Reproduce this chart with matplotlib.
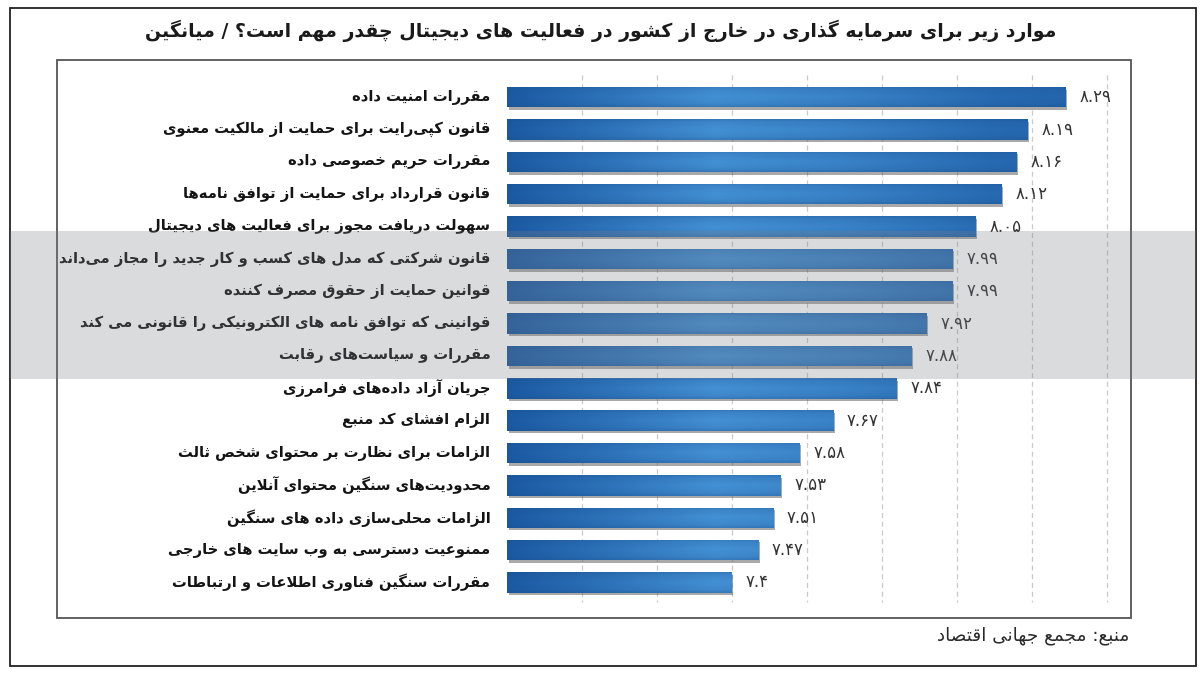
import numpy as np
import matplotlib
matplotlib.use("Agg")
import matplotlib.pyplot as plt
from matplotlib.patches import Rectangle
from matplotlib.transforms import ScaledTranslation

# ---------------- data ----------------
categories = [
    "مقررات امنیت داده",
    "قانون کپی‌رایت برای حمایت از مالکیت معنوی",
    "مقررات حریم خصوصی داده",
    "قانون قرارداد برای حمایت از توافق نامه‌ها",
    "سهولت دریافت مجوز برای فعالیت های دیجیتال",
    "قانون شرکتی که مدل های کسب و کار جدید را مجاز می‌داند",
    "قوانین حمایت از حقوق مصرف کننده",
    "قوانینی که توافق نامه های الکترونیکی را قانونی می کند",
    "مقررات و سیاست‌های رقابت",
    "جریان آزاد داده‌های فرامرزی",
    "الزام افشای کد منبع",
    "الزامات برای نظارت بر محتوای شخص ثالث",
    "محدودیت‌های سنگین محتوای آنلاین",
    "الزامات محلی‌سازی داده های سنگین",
    "ممنوعیت دسترسی به وب سایت های خارجی",
    "مقررات سنگین فناوری اطلاعات و ارتباطات",
]
values = [8.29, 8.19, 8.16, 8.12, 8.05, 7.99, 7.99, 7.92,
          7.88, 7.84, 7.67, 7.58, 7.53, 7.51, 7.47, 7.40]
title_text = "موارد زیر برای سرمایه گذاری در خارج از کشور در فعالیت های دیجیتال چقدر مهم است؟ / میانگین"
source_text = "منبع: مجمع جهانی اقتصاد"
x_min = 6.8
x_max = 8.465
grid_ticks = [7.0, 7.2, 7.4, 7.6, 7.8, 8.0, 8.2, 8.4]

# ---------------- minimal Arabic/Persian shaping ----------------
# forms: (isolated, final, initial, medial); None for right-joining letters
FORMS = {
    '\u0621': (0xFE80, None, None, None),
    '\u0622': (0xFE81, 0xFE82, None, None),
    '\u0623': (0xFE83, 0xFE84, None, None),
    '\u0624': (0xFE85, 0xFE86, None, None),
    '\u0625': (0xFE87, 0xFE88, None, None),
    '\u0626': (0xFE89, 0xFE8A, 0xFE8B, 0xFE8C),
    '\u0627': (0xFE8D, 0xFE8E, None, None),
    '\u0628': (0xFE8F, 0xFE90, 0xFE91, 0xFE92),
    '\u0629': (0xFE93, 0xFE94, None, None),
    '\u062A': (0xFE95, 0xFE96, 0xFE97, 0xFE98),
    '\u062B': (0xFE99, 0xFE9A, 0xFE9B, 0xFE9C),
    '\u062C': (0xFE9D, 0xFE9E, 0xFE9F, 0xFEA0),
    '\u062D': (0xFEA1, 0xFEA2, 0xFEA3, 0xFEA4),
    '\u062E': (0xFEA5, 0xFEA6, 0xFEA7, 0xFEA8),
    '\u062F': (0xFEA9, 0xFEAA, None, None),
    '\u0630': (0xFEAB, 0xFEAC, None, None),
    '\u0631': (0xFEAD, 0xFEAE, None, None),
    '\u0632': (0xFEAF, 0xFEB0, None, None),
    '\u0633': (0xFEB1, 0xFEB2, 0xFEB3, 0xFEB4),
    '\u0634': (0xFEB5, 0xFEB6, 0xFEB7, 0xFEB8),
    '\u0635': (0xFEB9, 0xFEBA, 0xFEBB, 0xFEBC),
    '\u0636': (0xFEBD, 0xFEBE, 0xFEBF, 0xFEC0),
    '\u0637': (0xFEC1, 0xFEC2, 0xFEC3, 0xFEC4),
    '\u0638': (0xFEC5, 0xFEC6, 0xFEC7, 0xFEC8),
    '\u0639': (0xFEC9, 0xFECA, 0xFECB, 0xFECC),
    '\u063A': (0xFECD, 0xFECE, 0xFECF, 0xFED0),
    '\u0641': (0xFED1, 0xFED2, 0xFED3, 0xFED4),
    '\u0642': (0xFED5, 0xFED6, 0xFED7, 0xFED8),
    '\u0643': (0xFED9, 0xFEDA, 0xFEDB, 0xFEDC),
    '\u0644': (0xFEDD, 0xFEDE, 0xFEDF, 0xFEE0),
    '\u0645': (0xFEE1, 0xFEE2, 0xFEE3, 0xFEE4),
    '\u0646': (0xFEE5, 0xFEE6, 0xFEE7, 0xFEE8),
    '\u0647': (0xFEE9, 0xFEEA, 0xFEEB, 0xFEEC),
    '\u0648': (0xFEED, 0xFEEE, None, None),
    '\u0649': (0xFEEF, 0xFEF0, None, None),
    '\u064A': (0xFEF1, 0xFEF2, 0xFEF3, 0xFEF4),
    '\u067E': (0xFB56, 0xFB57, 0xFB58, 0xFB59),
    '\u0686': (0xFB7A, 0xFB7B, 0xFB7C, 0xFB7D),
    '\u0698': (0xFB8A, 0xFB8B, None, None),
    '\u06A9': (0xFB8E, 0xFB8F, 0xFB90, 0xFB91),
    '\u06AF': (0xFB92, 0xFB93, 0xFB94, 0xFB95),
    '\u06CC': (0xFBFC, 0xFBFD, 0xFBFE, 0xFBFF),
}
LAM_ALEF = {'\u0622': (0xFEF5, 0xFEF6), '\u0623': (0xFEF7, 0xFEF8),
            '\u0625': (0xFEF9, 0xFEFA), '\u0627': (0xFEFB, 0xFEFC)}


def dual(c):
    return c in FORMS and FORMS[c][2] is not None


def joins(c):
    return c in FORMS and FORMS[c][1] is not None


def shape(text):
    out = []
    n = len(text)
    i = 0
    while i < n:
        c = text[i]
        if c not in FORMS:
            if c != '\u200c':
                out.append(c)
            i += 1
            continue
        prev = text[i - 1] if i > 0 else ''
        conn_prev = dual(prev) and joins(c)
        if c == '\u0644' and i + 1 < n and text[i + 1] in LAM_ALEF:
            iso, fin = LAM_ALEF[text[i + 1]]
            out.append(chr(fin if conn_prev else iso))
            i += 2
            continue
        nxt = text[i + 1] if i + 1 < n else ''
        conn_next = dual(c) and joins(nxt)
        iso, fin, ini, med = FORMS[c]
        if conn_prev and conn_next:
            g = med
        elif conn_prev:
            g = fin
        elif conn_next:
            g = ini
        else:
            g = iso
        out.append(chr(g))
        i += 1
    return ''.join(reversed(out))


PERSIAN_DIGITS = str.maketrans('0123456789', '۰۱۲۳۴۵۶۷۸۹')


def fa_num(v):
    return f"{v:g}".translate(PERSIAN_DIGITS)


# ---------------- figure ----------------
W, H = 1203, 675
fig = plt.figure(figsize=(W / 100, H / 100), dpi=100)
fig.patch.set_facecolor('white')

ax_left, ax_right = 507 / W, 1131 / W
ax_top, ax_bot = 1 - 60 / H, 1 - 618 / H
ax = fig.add_axes([ax_left, ax_bot, ax_right - ax_left, ax_top - ax_bot])
ax.set_facecolor('none')

n = len(values)
ypos = np.arange(n)
ax.set_xlim(x_min, x_max)
ax.set_ylim(16.1, -1.15)
for s in ax.spines.values():
    s.set_visible(False)
ax.set_xticks([])
ax.set_yticks([])

# dashed gridlines
ax.vlines(grid_ticks, -0.7, 15.6, colors='#c9c9c9', linestyles=(0, (4, 3)),
          linewidth=0.9, zorder=0)

bar_h = 0.63
widths = np.array(values) - x_min

# shadows
shadow = ax.barh(ypos, widths, left=x_min, height=bar_h, color='#555555',
                 alpha=0.5, zorder=1, edgecolor='none')
off = ScaledTranslation(1.5 / 100, -2.5 / 100, fig.dpi_scale_trans)
for p in shadow.patches:
    p.set_transform(ax.transData + off)

bars = ax.barh(ypos, widths, left=x_min, height=bar_h, color='#2a6fb8',
               zorder=2, edgecolor='none')

# gradient fill clipped to each bar
gx = np.linspace(x_min, x_max, 300)
hprof = np.interp(gx, [6.8, 7.0, 7.35, 7.7, 8.1, 8.46],
                  [0.0, 0.35, 1.0, 0.75, 0.3, 0.15])
gy = np.linspace(0, 1, 40)  # 0 top -> 1 bottom
vprof = np.interp(gy, [0, 0.12, 0.5, 0.85, 1.0], [0.55, 0.25, 0.0, 0.2, 0.55])
dark = np.array([0x1b, 0x5a, 0xa3]) / 255
light = np.array([0x44, 0x90, 0xd4]) / 255
img = dark[None, None, :] + (light - dark)[None, None, :] * hprof[None, :, None]
vdark = np.array([0x16, 0x4a, 0x88]) / 255
img = img * (1 - vprof[:, None, None] * 0.6) + vdark[None, None, :] * vprof[:, None, None] * 0.6
img = np.clip(img, 0, 1)
for p in bars.patches:
    bb = p.get_bbox()
    im = ax.imshow(img, extent=(x_min, x_max, bb.y1, bb.y0), aspect='auto',
                   interpolation='bilinear', zorder=3)
    im.set_clip_path(p)

# value labels
for y, v in zip(ypos, values):
    ax.annotate(fa_num(v), xy=(v, y), xytext=(10, 0), textcoords='offset points',
                ha='left', va='center', fontsize=12, color='#333333',
                family='DejaVu Sans', zorder=5)

# category labels (right aligned just left of bars)
for y, c in zip(ypos, categories):
    ax.annotate(shape(c), xy=(x_min, y), xytext=(-12, 0), textcoords='offset points',
                ha='right', va='center', fontsize=10.6, color='#141414',
                fontweight='bold', family='DejaVu Sans', zorder=5,
                annotation_clip=False)

# title and source
fig.text(601 / W, 1 - 31 / H, shape(title_text), ha='center', va='center',
         fontsize=13.6, fontweight='bold', color='#1a1a1a', family='DejaVu Sans')
fig.text(1129 / W, 1 - 636 / H, shape(source_text), ha='right', va='center',
         fontsize=13.2, color='#2a2a2a', family='DejaVu Sans')

# frames
fig.patches.append(Rectangle((57 / W, 1 - 618 / H), (1131 - 57) / W, (618 - 60) / H,
                             transform=fig.transFigure, fill=False,
                             edgecolor='#555555', linewidth=1.3, zorder=10))
fig.patches.append(Rectangle((10 / W, 1 - 666 / H), (1196 - 10) / W, (666 - 8) / H,
                             transform=fig.transFigure, fill=False,
                             edgecolor='#222222', linewidth=1.3, zorder=10))
# translucent watermark band
fig.patches.append(Rectangle((10 / W, 1 - 379 / H), (1196 - 10) / W, (379 - 231) / H,
                             transform=fig.transFigure, facecolor='#7a7f88',
                             alpha=0.28, edgecolor='none', zorder=20))

fig.savefig('out.png', dpi=100)
